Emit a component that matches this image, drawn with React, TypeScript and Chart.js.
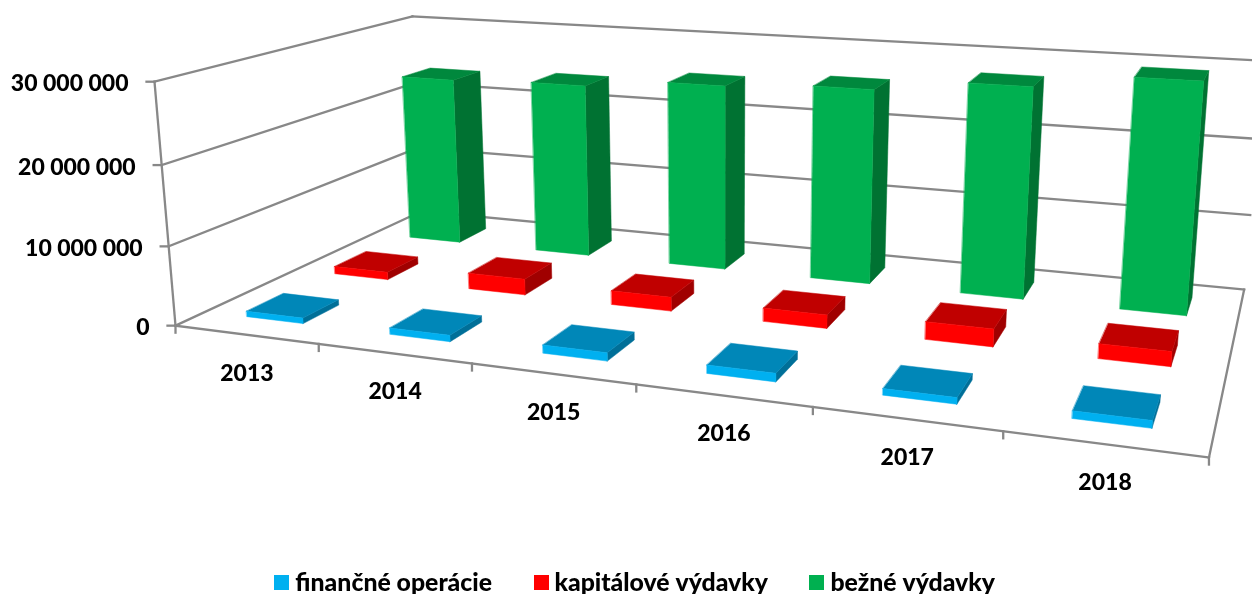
import React, { useEffect, useRef } from "react";
import { Chart, registerables } from "chart.js";

Chart.register(...registerables);

const years = ["2013", "2014", "2015", "2016", "2017", "2018"];
const financne = [700000, 800000, 1000000, 1000000, 750000, 850000];
const kapitalove = [1000000, 2100000, 1800000, 1700000, 2200000, 1800000];
const bezne = [23500000, 23900000, 25100000, 25850000, 27450000, 29350000];
const seriesNames = ["finančné operácie", "kapitálové výdavky", "bežné výdavky"];
const frontColors = ["#00B0F0", "#FF0000", "#00B050"];
const topColors = ["#0087B8", "#C00000", "#00883D"];
const sideColors = ["#006F98", "#A00000", "#007232"];
const GRID = "#888888";
const FONT = "Lato";
const WEIGHT = "900";
const FONT_SIZE = 23;
const LEGEND_FONT_SIZE = 24.8;

// Calibration of the 3D box: [u, v, h] (unit cube) -> picture position of its corners
const cubeCorners = [
  [0, 0, 0, 175, 325],
  [1, 0, 0, 1209, 458],
  [0, 1, 0, 422, 212],
  [1, 1, 0, 1244, 289],
  [0, 0, 1, 155, 82],
  [0, 1, 1, 412, 16],
  [1, 1, 1, 1263, 61],
];

function solve(A: number[][], b: number[]) {
  const n = b.length;
  const M = A.map((r, i) => [...r, b[i]]);
  for (let c = 0; c < n; c++) {
    let p = c;
    for (let r = c + 1; r < n; r++) if (Math.abs(M[r][c]) > Math.abs(M[p][c])) p = r;
    [M[c], M[p]] = [M[p], M[c]];
    for (let r = 0; r < n; r++) {
      if (r === c) continue;
      const f = M[r][c] / M[c][c];
      for (let k = c; k <= n; k++) M[r][k] -= f * M[c][k];
    }
  }
  return M.map((r, i) => r[n] / r[i]);
}

function fitCamera() {
  const rows: number[][] = [];
  const rhs: number[] = [];
  for (const [X, Y, Z, px, py] of cubeCorners) {
    const x = px / 1000;
    const y = py / 1000;
    rows.push([X, Y, Z, 1, 0, 0, 0, 0, -x * X, -x * Y, -x * Z]);
    rhs.push(x);
    rows.push([0, 0, 0, 0, X, Y, Z, 1, -y * X, -y * Y, -y * Z]);
    rhs.push(y);
  }
  const n = 11;
  const AtA = Array.from({ length: n }, (_, i) =>
    Array.from({ length: n }, (_, j) => rows.reduce((s, r) => s + r[i] * r[j], 0))
  );
  const Atb = Array.from({ length: n }, (_, i) => rows.reduce((s, r, k) => s + r[i] * rhs[k], 0));
  return solve(AtA, Atb);
}

const cam = fitCamera();
function project(u: number, v: number, h: number): [number, number] {
  const w = cam[8] * u + cam[9] * v + cam[10] * h + 1;
  return [
    (1000 * (cam[0] * u + cam[1] * v + cam[2] * h + cam[3])) / w,
    (1000 * (cam[4] * u + cam[5] * v + cam[6] * h + cam[7])) / w,
  ];
}

function poly(ctx: CanvasRenderingContext2D, pts: [number, number][], fill: string) {
  ctx.beginPath();
  pts.forEach((p, i) => (i ? ctx.lineTo(p[0], p[1]) : ctx.moveTo(p[0], p[1])));
  ctx.closePath();
  ctx.fillStyle = fill;
  ctx.fill();
  ctx.strokeStyle = fill;
  ctx.lineWidth = 0.5;
  ctx.stroke();
}

function line(ctx: CanvasRenderingContext2D, a: [number, number], b: [number, number]) {
  ctx.beginPath();
  ctx.moveTo(a[0], a[1]);
  ctx.lineTo(b[0], b[1]);
  ctx.stroke();
}

const perspectivePlugin = {
  id: "perspective",
  afterDatasetsDraw(chart: any) {
    const { ctx, scales } = chart;
    const xs = scales.x;
    const ys = scales.y;
    const U = (i: number) => (xs.getPixelForValue(i) - xs.left) / xs.width;
    const H = (val: number) => (ys.bottom - ys.getPixelForValue(val)) / ys.height;
    const count = xs.getLabels().length;
    ctx.save();

    // walls + floor
    ctx.strokeStyle = GRID;
    ctx.lineWidth = 2.3;
    ctx.lineCap = "square";
    for (const t of ys.ticks) {
      const h = H(t.value);
      const a = project(0, 0, h);
      const b = project(0, 1, h);
      const c = project(1, 1, h);
      line(ctx, a, b);
      line(ctx, b, c);
      line(ctx, a, [a[0] - 8, a[1]]);
    }
    line(ctx, project(0, 0, 0), project(0, 0, 1));
    line(ctx, project(0, 0, 0), project(1, 0, 0));
    line(ctx, project(1, 0, 0), project(1, 1, 0));
    for (let i = 0; i <= count; i++) {
      const p = project(i / count, 0, 0);
      line(ctx, p, [p[0], p[1] + 7]);
    }

    // boxes, back row first
    const halfU = 0.4 / 2 / count;
    const rows = chart.data.datasets.length;
    const halfV = 0.4 / 2 / rows;
    for (let d = rows - 1; d >= 0; d--) {
      const vc = (d + 0.5) / rows;
      const values = chart.data.datasets[d].data as number[];
      values.forEach((val, i) => {
        const u0 = U(i) - halfU;
        const u1 = U(i) + halfU;
        const v0 = vc - halfV;
        const v1 = vc + halfV;
        const h = H(val);
        poly(ctx, [project(u1, v0, 0), project(u1, v1, 0), project(u1, v1, h), project(u1, v0, h)], sideColors[d]);
        poly(ctx, [project(u0, v0, h), project(u1, v0, h), project(u1, v1, h), project(u0, v1, h)], topColors[d]);
        poly(ctx, [project(u0, v0, 0), project(u1, v0, 0), project(u1, v0, h), project(u0, v0, h)], frontColors[d]);
      });
    }

    // axis labels
    ctx.fillStyle = "#000";
    ctx.font = `${WEIGHT} ${FONT_SIZE}px ${FONT}`;
    ctx.textBaseline = "middle";
    ctx.textAlign = "right";
    for (const t of ys.ticks) {
      const a = project(0, 0, H(t.value));
      ctx.fillText(t.label, a[0] - 26, a[1] + 2);
    }
    ctx.textAlign = "center";
    years.forEach((label, i) => {
      const p = project(U(i), 0, 0);
      ctx.fillText(xs.getLabelForValue(i) || label, p[0] + 1, p[1] + 38.5);
    });
    ctx.restore();
  },
};

function swatch(color: string) {
  const c = document.createElement("canvas");
  c.width = 15;
  c.height = 15;
  const g = c.getContext("2d")!;
  g.fillStyle = color;
  g.fillRect(0, 0, 15, 15);
  return c;
}

export default function App() {
  const ref = useRef<HTMLCanvasElement>(null);
  useEffect(() => {
    document.body.style.margin = "0";
    document.body.style.background = "#fff";
    const chart = new Chart(ref.current!, {
      type: "bar",
      data: {
        labels: years,
        datasets: [financne, kapitalove, bezne].map((data, i) => ({
          label: seriesNames[i],
          data,
          backgroundColor: "rgba(0,0,0,0)",
          borderWidth: 0,
        })),
      },
      options: {
        responsive: false,
        animation: false,
        events: [],
        layout: { padding: { bottom: -11, left: 24 } },
        scales: {
          x: { display: false, stacked: false },
          y: {
            display: false,
            min: 0,
            max: 30000000,
            ticks: {
              stepSize: 10000000,
              callback: (v: any) => String(v).replace(/\B(?=(\d{3})+(?!\d))/g, " "),
            },
          },
        },
        plugins: {
          tooltip: { enabled: false },
          legend: {
            position: "bottom",
            labels: {
              usePointStyle: true,
              pointStyleWidth: 2,
              padding: 48,
              color: "#000",
              font: { family: FONT, size: LEGEND_FONT_SIZE, weight: WEIGHT },
              generateLabels: (c: any) =>
                c.data.datasets.map((ds: any, i: number) => ({
                  text: ds.label,
                  pointStyle: swatch(frontColors[i]),
                  fillStyle: frontColors[i],
                  strokeStyle: frontColors[i],
                  lineWidth: 0,
                  datasetIndex: i,
                })),
            },
          },
        },
      } as any,
      plugins: [perspectivePlugin],
    });
    return () => chart.destroy();
  }, []);
  return <canvas ref={ref} width={1252} height={594} style={{ display: "block" }} />;
}
